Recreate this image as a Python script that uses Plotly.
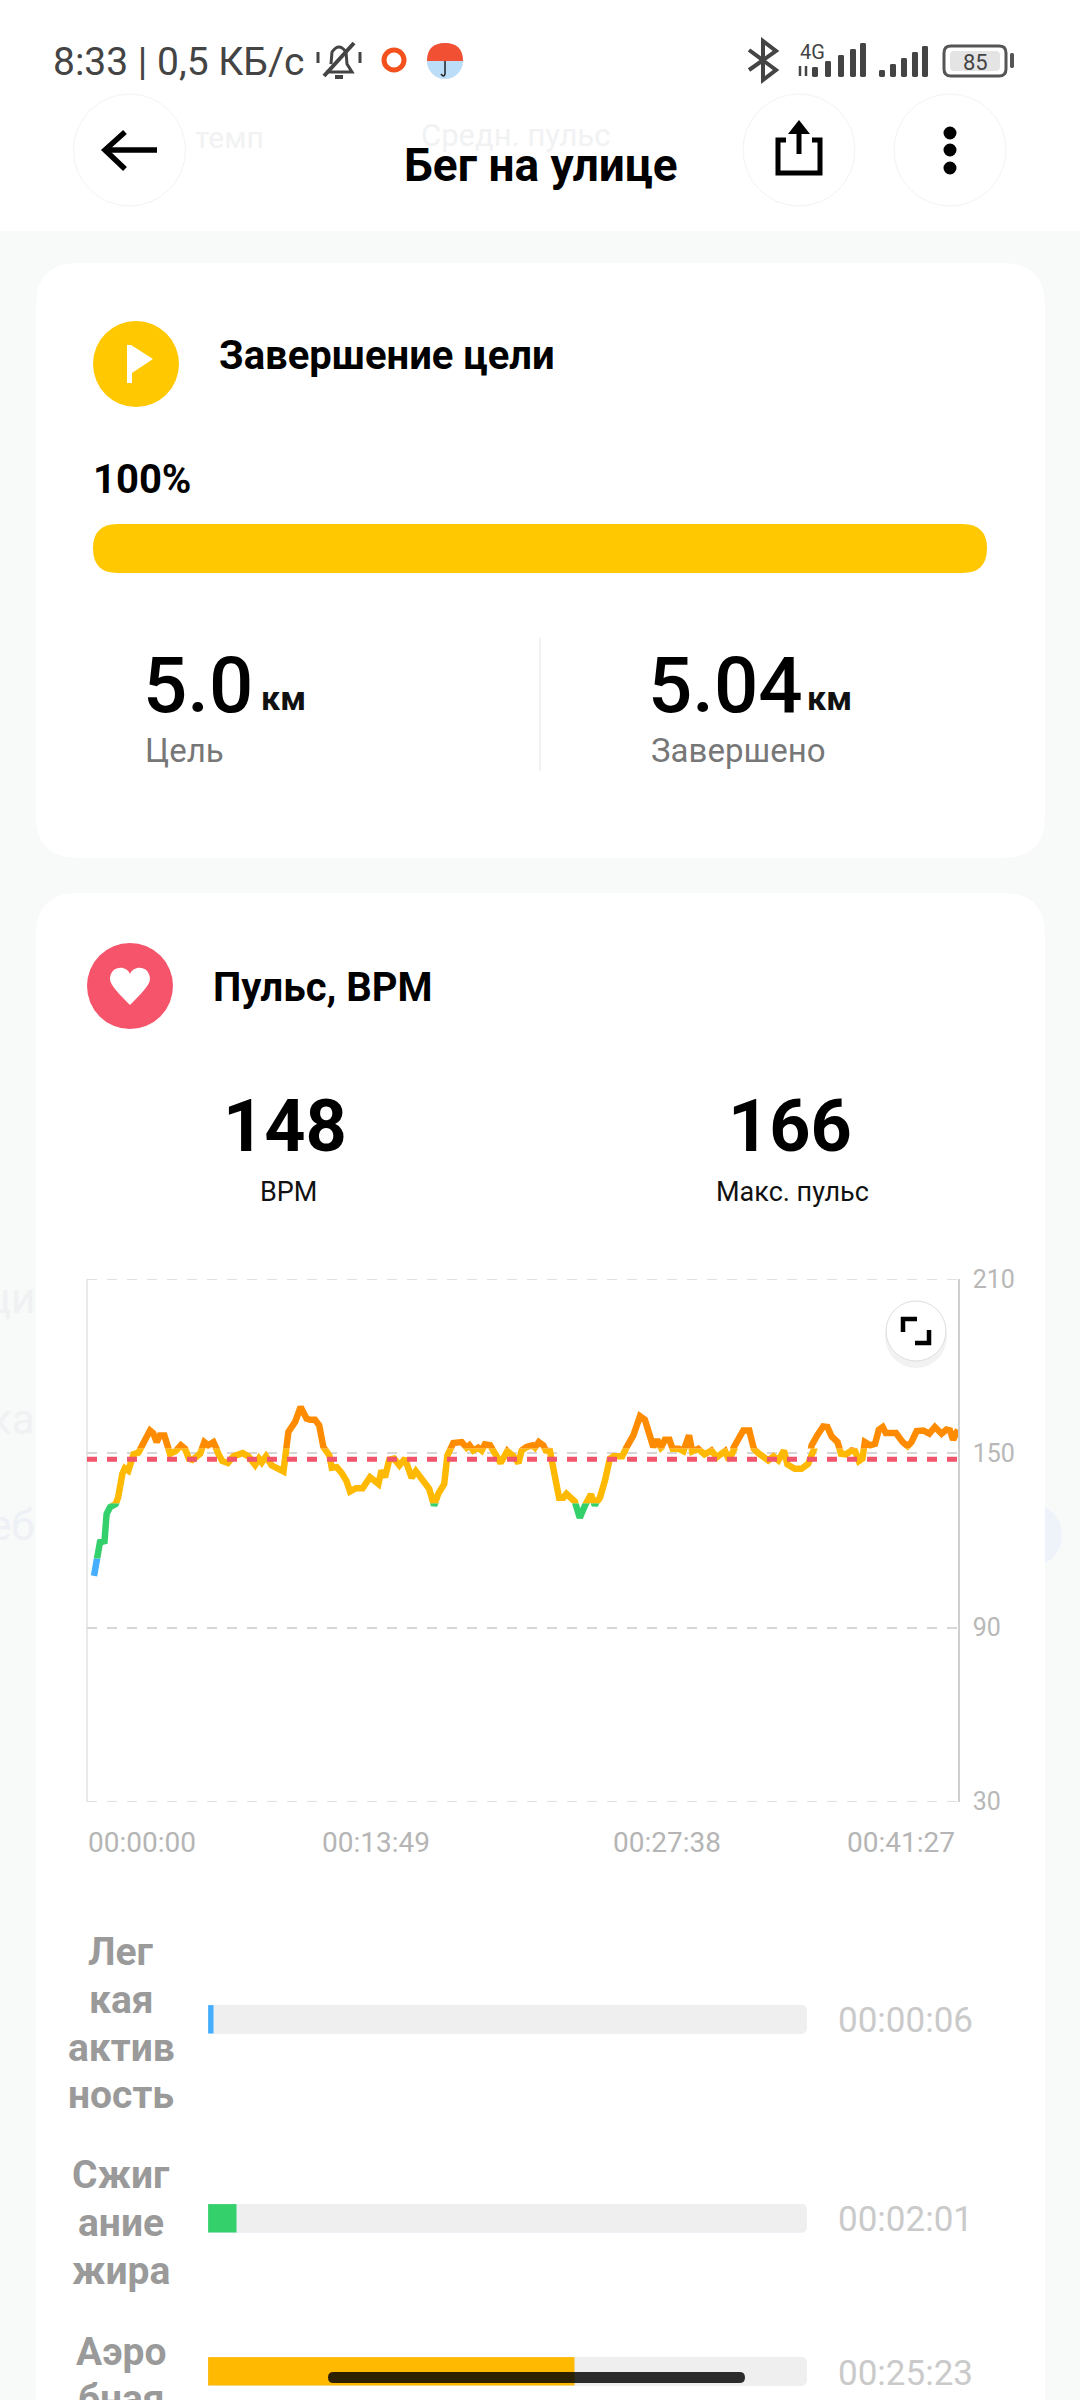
#!/usr/bin/env python3
# -*- coding: utf-8 -*-

import plotly.graph_objects as go

W, H = 1080, 2400
FONT = "Roboto"

# Heart rate
hr_seconds = [
    20, 26, 30, 37, 50, 56, 66, 82, 89, 101, 108, 118, 133, 147, 156, 166, 180, 189, 199, 208,
    221, 237, 253, 268, 280, 291, 301, 323, 335, 346, 361, 375, 386, 402, 418, 444, 461, 480,
    491, 499, 511, 527, 544, 561, 575, 594, 610, 627, 637, 651, 663, 675, 692, 699, 713, 727,
    741, 751, 768, 787, 808, 832, 841, 851, 863, 877, 892, 908, 927, 939, 960, 977, 991, 1003,
    1020, 1029, 1046, 1070, 1084, 1092, 1103, 1117, 1127, 1136, 1151, 1168, 1181, 1200, 1217,
    1232, 1241, 1255, 1272, 1279, 1290, 1303, 1310, 1322, 1336, 1348, 1360, 1369, 1393, 1407,
    1422, 1439, 1450, 1465, 1479, 1493, 1503, 1528, 1541, 1560, 1579, 1593, 1617, 1628, 1639,
    1650, 1663, 1672, 1690, 1703, 1719, 1728, 1745, 1763, 1783, 1798, 1822, 1833, 1847, 1874,
    1891, 1904, 1917, 1936, 1945, 1960, 1974, 1990, 2000, 2021, 2040, 2059, 2069, 2085, 2102,
    2114, 2126, 2143, 2153, 2167, 2183, 2193, 2204, 2214, 2221, 2236, 2250, 2261, 2272, 2281,
    2310, 2329, 2343, 2354, 2369, 2388, 2405, 2421, 2440, 2454, 2464, 2473, 2487,
]
hr_bpm = [
    107.8, 112.5, 115.4, 119.4, 119.8, 129.2, 131.5, 132.6, 134.9, 143, 144.9, 144.1, 149.7,
    150.3, 152.8, 154.7, 157.9, 157, 153.9, 156.2, 156.2, 149.9, 150.8, 152.8, 151.6, 148.2,
    147.8, 149.9, 153.9, 152.8, 153.9, 149.9, 147.4, 146.7, 149, 150.1, 149, 146, 148.2, 146.9,
    149, 145.9, 144.7, 143.8, 157.4, 160.8, 166, 162, 161.6, 161.6, 159.7, 152.2, 149.3, 145.1,
    145.3, 143.3, 140.5, 136.9, 138, 138, 141.8, 139.5, 144.1, 141.8, 147.8, 148.2, 145.9, 148.2,
    141.6, 143.9, 140.1, 137.8, 132.1, 136.1, 139.5, 149.3, 153.6, 153.9, 152, 152.8, 151, 152,
    151, 153.1, 152.8, 149.3, 146.7, 150.8, 149.1, 146.7, 151, 152.2, 152.8, 152, 153.9, 152.8,
    151, 150.8, 140.7, 134.7, 134.7, 136.1, 133.4, 127.8, 132.1, 135.9, 132.1, 134.9, 140.7,
    148.2, 149, 149, 152.2, 156.2, 162.8, 161.6, 152.2, 154.7, 152, 154.7, 154.7, 151.6, 151.6,
    150.8, 156.2, 150.7, 151.6, 149.7, 151, 148.7, 150.8, 147.8, 152.2, 157.9, 157.9, 151.6,
    150.1, 148.2, 147.6, 149, 147.6, 151, 146.2, 144.7, 144.7, 146.4, 152.8, 156.2, 159.3,
    159.1, 155.9, 153.9, 149.9, 149.7, 151, 150.8, 147.4, 148.2, 153.9, 152.8, 153.3, 158.2,
    159.1, 157, 157, 153.9, 152.5, 153.9, 157.7, 157.9, 156.8, 159.1, 156.8, 158.2, 157.9,
    154.7, 158.2,
]
avg_bpm = 148
total_seconds = 2487

y_ticks = [30, 90, 150, 210]
x_tick_seconds = [0, 829, 1658, 2487]
x_tick_labels = ["00:00:00", "00:13:49", "00:27:38", "00:41:27"]

# Pulse zones: lower and upper limit, colour
zone_limits = [30, 113.8, 132.8, 151.7, 210]
zone_colors = ["#45AEFF", "#34D06C", "#FFB900", "#FF8C00"]

# Time in zone
zone_names = ["Легкая активность", "Сжигание жира", "Аэробная"]
zone_label_lines = [["Лег", "кая", "актив", "ность"], ["Сжиг", "ание", "жира"], ["Аэро", "бная"]]
zone_seconds = [6, 121, 1523]
zone_times = ["00:00:06", "00:02:01", "00:25:23"]
MIN_BAR_SECONDS = 24  # the app never draws a bar thinner than this

goal_km = "5.0"
done_km = "5.04"
avg_label = "148"
max_label = "166"

# Pixel layout of the phone screen
PLOT_LEFT, PLOT_RIGHT = 87, 958
PLOT_TOP, PLOT_BOTTOM = 1279.3, 1801.7
BAR_LEFT, BAR_RIGHT = 208, 807
bar_rows = [(2005, 2034), (2204, 2233), (2357, 2386)]
label_rows = [[1952, 2000, 2048, 2095], [2175, 2223, 2271], [2352, 2399]]
time_rows = [2020, 2219, 2373]


def X(px):
    return px / W


def Y(px):
    return 1 - px / H


def bpm_py(v):
    return PLOT_BOTTOM - (v - 30) / 180 * (PLOT_BOTTOM - PLOT_TOP)


shapes = []
annotations = []


def path(points, color, width=0, fill=None, layer="above", close=False):
    # points is a list of (cmd, x, y, ...) in screen pixels
    parts = []
    for p in points:
        coords = []
        for i in range(1, len(p), 2):
            coords.append(f"{X(p[i]):.5f},{Y(p[i + 1]):.5f}")
        parts.append(p[0] + " ".join(coords))
    d = " ".join(parts) + (" Z" if close else "")
    shapes.append(dict(type="path", path=d, xref="paper", yref="paper", layer=layer,
                       line=dict(color=color, width=width), fillcolor=fill or "rgba(0,0,0,0)"))


def rrect(x0, y0, x1, y1, r, fill, layer="below", line=None, width=0):
    pts = [("M", x0 + r, y0), ("L", x1 - r, y0), ("Q", x1, y0, x1, y0 + r), ("L", x1, y1 - r),
           ("Q", x1, y1, x1 - r, y1), ("L", x0 + r, y1), ("Q", x0, y1, x0, y1 - r),
           ("L", x0, y0 + r), ("Q", x0, y0, x0 + r, y0)]
    path(pts, line or fill, width, fill, layer, True)


def circle(cx, cy, r, fill, line=None, width=0, layer="above", opacity=1):
    shapes.append(dict(type="circle", xref="paper", yref="paper", layer=layer, opacity=opacity,
                       x0=X(cx - r), x1=X(cx + r), y0=Y(cy + r), y1=Y(cy - r), fillcolor=fill,
                       line=dict(color=line or fill, width=width)))


def text(x, y, s, size, color="#000000", anchor="left", weight=400):
    annotations.append(dict(x=X(x), y=Y(y), xref="paper", yref="paper", text=s, showarrow=False,
                            xanchor=anchor, yanchor="middle", borderpad=0,
                            font=dict(family=FONT, size=size, color=color, weight=weight)))


# Page background and cards
shapes.append(dict(type="rect", xref="paper", yref="paper", layer="below", x0=0, x1=1, y0=Y(231),
                   y1=1, fillcolor="#FFFFFF", line=dict(width=0)))
circle(1030, 1535, 32, "#EEF3FA", layer="below")
rrect(36, 263, 1045, 858, 42, "#FFFFFF")
rrect(36, 893, 1045, 2440, 42, "#FFFFFF")

# Things showing faintly through the blurred background
text(194, 137, "темп", 30, "#F1F2F3")
text(420, 136, "Средн. пульс", 31, "#F1F2F3")
text(36, 1298, "ци", 42, "#EFF1F3", "right")
text(36, 1419, "ка", 42, "#EFF1F3", "right")
text(36, 1525, "еб", 42, "#EDF0F5", "right")

# Status bar
text(52, 62, "8:33 | 0,5 КБ/с", 39, "#444444")
path([("M", 326, 72), ("L", 352, 72), ("L", 347, 64), ("L", 346, 52), ("Q", 339, 42, 332, 52),
      ("L", 331, 64)], "#444444", 3)
path([("M", 324, 76), ("L", 354, 43)], "#444444", 4)
path([("M", 335, 77), ("L", 343, 77)], "#444444", 4)
path([("M", 318, 52), ("L", 318, 63)], "#444444", 3)
path([("M", 360, 52), ("L", 360, 63)], "#444444", 3)
circle(394, 60, 10, "#FFFFFF", "#F4511E", 5)
circle(445, 61, 18, "#BBDDF8")
path([("M", 427, 61), ("Q", 427, 43, 445, 43), ("Q", 463, 43, 463, 61)], "#F25033", 0, "#F25033", close=True)
path([("M", 445, 61), ("L", 445, 74), ("Q", 444, 78, 441, 74)], "#222222", 1.5)
path([("M", 749, 50), ("L", 776, 70), ("L", 763, 80), ("L", 763, 41), ("L", 776, 51), ("L", 749, 70)], "#444444", 4)
text(812, 52, "4G", 20, "#444444", "center")
for i, bx in enumerate([812, 825, 838, 850, 860]):
    rrect(bx, 67 - i * 6, bx + 6, 77, 1.5, "#444444", "above")
path([("M", 800, 66), ("L", 800, 76)], "#444444", 2.5)
path([("M", 806, 66), ("L", 806, 76)], "#444444", 2.5)
for i, bx in enumerate([879, 890, 901, 912, 922]):
    rrect(bx, 70 - i * 6, bx + 6, 77, 1.5, "#444444", "above")
rrect(944, 46, 1006, 76, 7, "#FFFFFF", "above", "#555555", 3)
rrect(950, 51, 1000, 71, 4, "#E4E4E4", "above")
rrect(1010, 53, 1014, 68, 1.5, "#555555", "above")
text(975, 62, "85", 22, "#444444", "center")

# Top bar
for cx in [129.5, 799, 950]:
    circle(cx, 150, 56, "#FFFFFF", "#F3F3F3", 1)
path([("M", 105, 150), ("L", 157, 150)], "#000000", 5.5)
path([("M", 125, 132), ("L", 105, 150), ("L", 125, 169)], "#000000", 5.5)
path([("M", 786, 140), ("L", 778, 140), ("L", 778, 173), ("L", 820, 173), ("L", 820, 140), ("L", 812, 140)], "#000000", 5)
path([("M", 799, 154), ("L", 799, 124)], "#000000", 5)
path([("M", 788, 134), ("L", 799, 120), ("L", 810, 134)], "#000000", 0, "#000000", close=True)
for dy in [133, 150, 168]:
    circle(950, dy, 6.5, "#000000")
text(541, 165, "Бег на улице", 46, "#000000", "center", 700)

# Goal card
circle(136, 364, 43, "#FFC800")
path([("M", 127, 345), ("L", 131, 345), ("L", 153, 359), ("L", 132, 373), ("L", 132, 383), ("L", 127, 383)], "#FFFFFF", 0, "#FFFFFF", close=True)
text(218, 356, "Завершение цели", 40, "#000000", "left", 700)
text(92, 480, "100%", 40, "#000000", "left", 700)
rrect(93, 524, 987, 573, 24.5, "#FFC800")
shapes.append(dict(type="line", xref="paper", yref="paper", layer="below", x0=X(540), x1=X(540),
                   y0=Y(638), y1=Y(771), line=dict(color="#EEEEEE", width=1.5)))
text(142, 685, goal_km, 78, "#000000", "left", 500)
text(260, 698, "км", 34, "#111111", "left", 700)
text(144, 750, "Цель", 33, "#777777")
text(647, 685, done_km, 78, "#000000", "left", 500)
text(806, 698, "км", 34, "#111111", "left", 700)
text(650, 750, "Завершено", 33, "#777777")

# Heart rate card
circle(130, 986, 43, "#F5546B")
path([("M", 130, 1005), ("C", 120, 995, 110, 985, 110, 979), ("C", 110, 966, 126, 964, 130, 974),
      ("C", 134, 964, 150, 966, 150, 979), ("C", 150, 985, 140, 995, 130, 1005)], "#FFFFFF", 0, "#FFFFFF", close=True)
text(212, 988, "Пульс, BPM", 40, "#000000", "left", 700)
text(285, 1126, avg_label, 72, "#000000", "center", 700)
text(288, 1192, "BPM", 27, "#111111", "center")
text(790, 1126, max_label, 72, "#000000", "center", 700)
text(792, 1192, "Макс. пульс", 27, "#111111", "center")

# Fullscreen button
circle(916, 1337, 31, "#000000", layer="below", opacity=0.05)
circle(916, 1331, 30, "#FFFFFF", "#DDDDDD", 1)
path([("M", 903, 1332), ("L", 903, 1319), ("L", 917, 1319)], "#000000", 4.5)
path([("M", 929, 1330), ("L", 929, 1343), ("L", 915, 1343)], "#000000", 4.5)

# Left edge of the plot is lighter than the right one
shapes.append(dict(type="line", xref="paper", yref="paper", layer="below", x0=X(PLOT_LEFT), x1=X(PLOT_LEFT),
                   y0=Y(PLOT_BOTTOM), y1=Y(PLOT_TOP), line=dict(color="#E2E2E2", width=1.5)))

# Gesture pill
rrect(328, 2372, 745, 2383, 5.5, "rgba(0,0,0,0.82)", "above")

for tick, label, anchor in zip(x_tick_seconds, x_tick_labels, ["left", "center", "center", "right"]):
    annotations.append(dict(x=tick, xref="x", y=Y(1842), yref="paper", text=label, showarrow=False,
                            xanchor=anchor, yanchor="middle", xshift=-1,
                            font=dict(family=FONT, size=28, color="#B5B5B5")))

for lines, rows in zip(zone_label_lines, label_rows):
    for line, ly in zip(lines, rows):
        text(121, ly, line, 39, "#9A9A9A", "center", 700)
for t, ty in zip(zone_times, time_rows):
    text(837, ty, t, 35, "#CACACA")

fig = go.Figure()

# The grid skips the lines on the axis ends, draw those two as traces
for edge in [y_ticks[0], y_ticks[-1]]:
    fig.add_trace(go.Scatter(x=[0, total_seconds], y=[edge, edge], mode="lines", xaxis="x", yaxis="y",
                             cliponaxis=False, line=dict(color="#D6D6D6", width=1.5, dash="10px,10px"),
                             showlegend=False))

# One clipped y axis per zone, so the line changes colour on a horizontal edge
layout_axes = {}
for i, color in enumerate(zone_colors):
    low, high = zone_limits[i], zone_limits[i + 1]
    n = i + 2
    layout_axes[f"yaxis{n}"] = dict(domain=[Y(bpm_py(low)), Y(bpm_py(high))], range=[low, high],
                                    visible=False, anchor="x")
    fig.add_trace(go.Scatter(x=hr_seconds, y=hr_bpm, mode="lines", xaxis="x", yaxis=f"y{n}",
                             line=dict(color=color, width=6.5), showlegend=False))

# Average line sits on top of the zones
layout_axes["yaxis6"] = dict(domain=[Y(PLOT_BOTTOM), Y(PLOT_TOP)], range=[30, 210], visible=False, anchor="x")
fig.add_trace(go.Scatter(x=[0, total_seconds], y=[avg_bpm, avg_bpm], mode="lines", xaxis="x", yaxis="y6",
                         line=dict(color="#F0556C", width=5, dash="10px,10px"), showlegend=False))

# Zone time bars
for i, (name, sec) in enumerate(zip(zone_names, zone_seconds)):
    xn, yn = i + 2, i + 7
    top, bottom = bar_rows[i]
    layout_axes[f"xaxis{xn}"] = dict(domain=[X(BAR_LEFT), X(BAR_RIGHT)], range=[0, total_seconds],
                                     visible=False, anchor=f"y{yn}")
    layout_axes[f"yaxis{yn}"] = dict(domain=[Y(bottom), Y(top)], visible=False, anchor=f"x{xn}")
    fig.add_trace(go.Bar(x=[total_seconds], y=[name], orientation="h", xaxis=f"x{xn}", yaxis=f"y{yn}",
                         marker_color="#EFEFEF", showlegend=False))
    fig.add_trace(go.Bar(x=[max(sec, MIN_BAR_SECONDS)], y=[name], orientation="h", xaxis=f"x{xn}", yaxis=f"y{yn}",
                         marker_color=zone_colors[i], showlegend=False))

fig.update_layout(
    width=W, height=H, margin=dict(l=0, r=0, t=0, b=0, pad=0, autoexpand=False),
    paper_bgcolor="#F8F9F9", plot_bgcolor="rgba(0,0,0,0)",
    font=dict(family=FONT), hovermode=False, showlegend=False,
    barmode="overlay", bargap=0, barcornerradius=6,
    xaxis=dict(domain=[X(PLOT_LEFT), X(PLOT_RIGHT)], range=[0, total_seconds], showgrid=False,
               zeroline=False, showticklabels=False, ticks="", anchor="y"),
    yaxis=dict(domain=[Y(PLOT_BOTTOM), Y(PLOT_TOP)], range=[30, 210], side="right", anchor="x",
               tickvals=y_ticks, ticktext=[str(v) for v in y_ticks], ticks="", ticklabelstandoff=8,
               tickfont=dict(family=FONT, size=25, color="#B8B8B8"),
               showgrid=True, gridcolor="#D6D6D6", gridwidth=1.5, griddash="10px,10px", zeroline=False,
               showline=True, linecolor="#CFCFCF", linewidth=1.5),
    shapes=shapes, annotations=annotations, **layout_axes,
)

fig.write_html("out.html", config={"displayModeBar": False},
               post_script="document.body.style.margin='0';")
